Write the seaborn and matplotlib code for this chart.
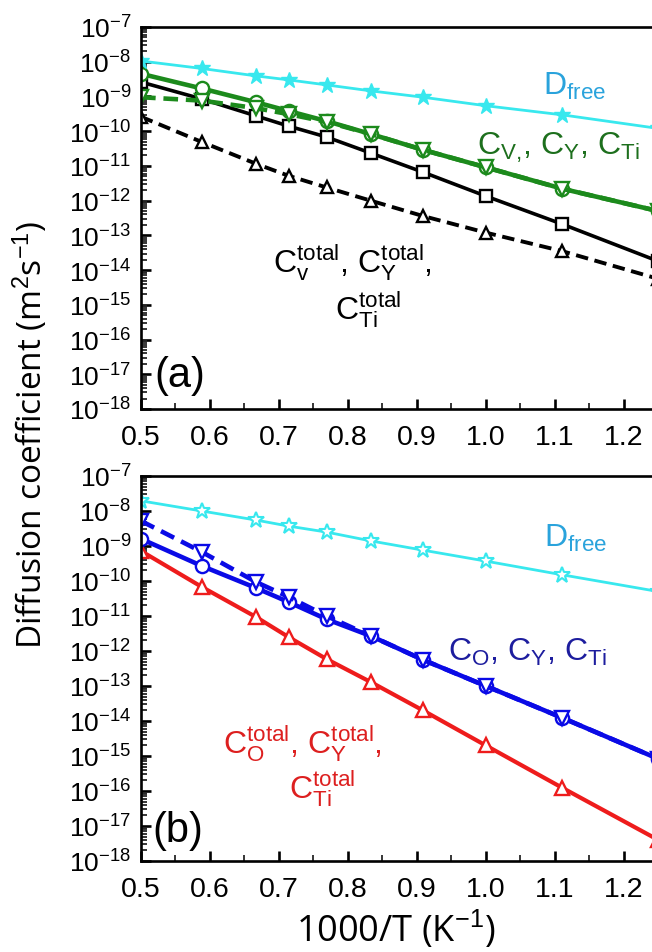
import numpy as np
import pandas as pd
import seaborn as sns
import matplotlib
matplotlib.use("Agg")
import matplotlib.pyplot as plt
from matplotlib.ticker import LogLocator, NullFormatter, MultipleLocator

sns.set_theme(style="white")
plt.rcParams["font.family"] = ["Liberation Sans", "DejaVu Sans"]
plt.rcParams["mathtext.fontset"] = "custom"
plt.rcParams["mathtext.rm"] = "Liberation Sans"
plt.rcParams["mathtext.it"] = "Liberation Sans:italic"
plt.rcParams["mathtext.bf"] = "Liberation Sans:bold"

# inverse temperature, 1000/T (K^-1), for T = 2000 ... 800 K
inv_T = [0.5, 0.588, 0.667, 0.714, 0.769, 0.833, 0.909, 1.0, 1.111, 1.25]

# panel (a): cation vacancy / Y / Ti diffusion
a_free = [1.05e-8, 6.4e-9, 3.9e-9, 3.0e-9, 2.15e-9, 1.45e-9, 9.5e-10, 5.4e-10, 2.95e-10, 1.2e-10]
a_C = [4.5e-9, 1.7e-9, 6.8e-10, 3.8e-10, 1.95e-10, 8.3e-11, 2.9e-11, 9.1e-12, 2.2e-12, 5.0e-13]
a_C_dash = [9.5e-10, 7.6e-10, 4.6e-10, 3.1e-10, 1.85e-10, 8.3e-11, 2.9e-11, 9.1e-12, 2.2e-12, 5.0e-13]
a_total = [2.6e-9, 8.5e-10, 2.75e-10, 1.4e-10, 6.8e-11, 2.35e-11, 6.6e-12, 1.35e-12, 2.1e-13, 1.8e-14]
a_total_dash = [2.6e-10, 4.9e-11, 1.15e-11, 5.2e-12, 2.4e-12, 1.0e-12, 3.6e-13, 1.2e-13, 3.5e-14, 5.6e-15]

# panel (b): oxygen / Y / Ti diffusion
b_free = [1.95e-8, 1.0e-8, 5.5e-9, 3.7e-9, 2.5e-9, 1.4e-9, 7.6e-10, 3.7e-10, 1.5e-10, 5.0e-11]
b_C = [1.6e-9, 2.7e-10, 6.3e-11, 2.5e-11, 8.1e-12, 2.7e-12, 5.6e-13, 1.0e-13, 1.23e-14, 8.3e-16]
b_C_dash = [5.2e-9, 6.8e-10, 9.3e-11, 3.5e-11, 1.0e-11, 2.7e-12, 5.6e-13, 1.0e-13, 1.23e-14, 8.3e-16]
b_total = [7.2e-10, 6.8e-11, 9.3e-12, 2.5e-12, 5.9e-13, 1.3e-13, 2.0e-14, 2.0e-15, 1.23e-16, 4.0e-18]

x_ticks = [0.5, 0.6, 0.7, 0.8, 0.9, 1.0, 1.1, 1.2]
x_ticklabels = ["0.5", "0.6", "0.7", "0.8", "0.9", "1.0", "1.1", "1.2"]

CYAN = "#38e8ee"
GREEN = "#1c8a1c"
BLUE = "#0a0ae6"
RED = "#ee1c1c"

W, H = 652, 953
fig = plt.figure(figsize=(W / 100, H / 100), dpi=100)
fig.patch.set_facecolor("white")


def px_axes(left, top, bottom, right=W):
    return fig.add_axes([left / W, 1 - bottom / H, (right - left) / W, (bottom - top) / H])


ax_a = px_axes(141, 28, 410)
ax_b = px_axes(141, 477, 862)


def series(ax, y, color, lw, marker, ms, dashed=False, mfc="white", mew=1.7):
    df = pd.DataFrame({"x": inv_T, "y": y})
    kw = dict(linestyle=(0, (3.2, 1.7)) if dashed else "-")
    sns.lineplot(data=df, x="x", y="y", ax=ax, color=color, lw=lw, marker=marker,
                 markersize=ms, markerfacecolor=mfc, markeredgecolor=color,
                 markeredgewidth=mew, sort=False, legend=False, **kw)


# panel (a)
series(ax_a, a_total_dash, "black", 2.8, "^", 9, dashed=True)
series(ax_a, a_total, "black", 2.6, "s", 8)
series(ax_a, a_C, GREEN, 3.3, "o", 9.5)
series(ax_a, a_C_dash, GREEN, 3.3, "v", 9.5, dashed=True)
series(ax_a, a_free, CYAN, 2.0, "*", 12, mfc=CYAN, mew=1.0)

# panel (b)
series(ax_b, b_free, CYAN, 2.0, "*", 12, mew=1.5)
series(ax_b, b_total, RED, 3.0, "^", 9.5)
series(ax_b, b_C, BLUE, 3.3, "o", 9.5)
series(ax_b, b_C_dash, BLUE, 3.3, "v", 9.5, dashed=True)

for ax in (ax_a, ax_b):
    ax.set_yscale("log")
    ax.set_xlim(0.5, 1.241)
    ax.set_ylim(1e-18, 1e-7)
    ax.set_xlabel("")
    ax.set_ylabel("")
    ax.set_facecolor("white")
    ax.grid(False)
    ax.yaxis.set_major_locator(LogLocator(base=10, numticks=20))
    ax.yaxis.set_minor_locator(LogLocator(base=10, subs=np.arange(2, 10), numticks=200))
    ax.yaxis.set_minor_formatter(NullFormatter())
    ax.set_xticks(x_ticks)
    ax.set_xticklabels(x_ticklabels)
    ax.xaxis.set_minor_locator(MultipleLocator(0.05))
    for side in ("left", "bottom", "top"):
        ax.spines[side].set_visible(True)
        ax.spines[side].set_color("black")
        ax.spines[side].set_linewidth(1.9)
    ax.spines["right"].set_visible(False)
    ax.tick_params(axis="both", which="major", direction="in", length=7, width=1.9,
                   colors="black", left=True, bottom=True, top=False, right=False)
    ax.tick_params(axis="y", which="major", labelsize=19, pad=7)
    ax.tick_params(axis="x", which="major", labelsize=20.5, pad=11)
    ax.tick_params(axis="both", which="minor", direction="in", length=4, width=1.3,
                   left=True, bottom=True, top=False, right=False)

lbl = dict(fontsize=23, ha="left", va="baseline", family=["Liberation Sans", "DejaVu Sans"])

# panel (a) annotations
ax_a.text(1.083, 10 ** -8.93, r"D$_{\rm free}$", color="#2aa3dc", **lbl)
ax_a.text(0.987, 10 ** -10.66, r"C$_{\rm V{,}}$, C$_{\rm Y}$, C$_{\rm Ti}$", color="#1d6f1d", **lbl)
ax_a.text(0.691, 10 ** -14.05, r"C$_{\rm v}^{\rm total}$, C$_{\rm Y}^{\rm total}$,", color="black", **lbl)
ax_a.text(0.781, 10 ** -15.38, r"C$_{\rm Ti}^{\rm total}$", color="black", **lbl)
ax_a.text(0.520, 10 ** -17.34, "(a)", color="black", fontsize=30, ha="left", va="baseline")

# panel (b) annotations
ax_b.text(1.084, 10 ** -9.0, r"D$_{\rm free}$", color="#2aa3dc", **lbl)
ax_b.text(0.945, 10 ** -12.26, r"C$_{\rm O}$, C$_{\rm Y}$, C$_{\rm Ti}$", color="#1d1d9e", **lbl)
ax_b.text(0.619, 10 ** -14.89, r"C$_{\rm O}^{\rm total}$, C$_{\rm Y}^{\rm total}$,", color="#dd1f1f", **lbl)
ax_b.text(0.714, 10 ** -16.2, r"C$_{\rm Ti}^{\rm total}$", color="#dd1f1f", **lbl)
ax_b.text(0.516, 10 ** -17.43, "(b)", color="black", fontsize=30, ha="left", va="baseline")

fig.text(30 / W, 1 - 435 / H, r"Diffusion coefficient (m$^{2}$s$^{-1}$)", rotation=90,
         ha="center", va="center", fontsize=24, family=["Open Sans", "DejaVu Sans"], color="black")
fig.text(396 / W, 1 - 930 / H, r"1000/T (K$^{-1}$)", ha="center", va="center",
         fontsize=26, family=["Open Sans", "DejaVu Sans"], color="black")

fig.savefig("out.png", dpi=100, facecolor="white")
